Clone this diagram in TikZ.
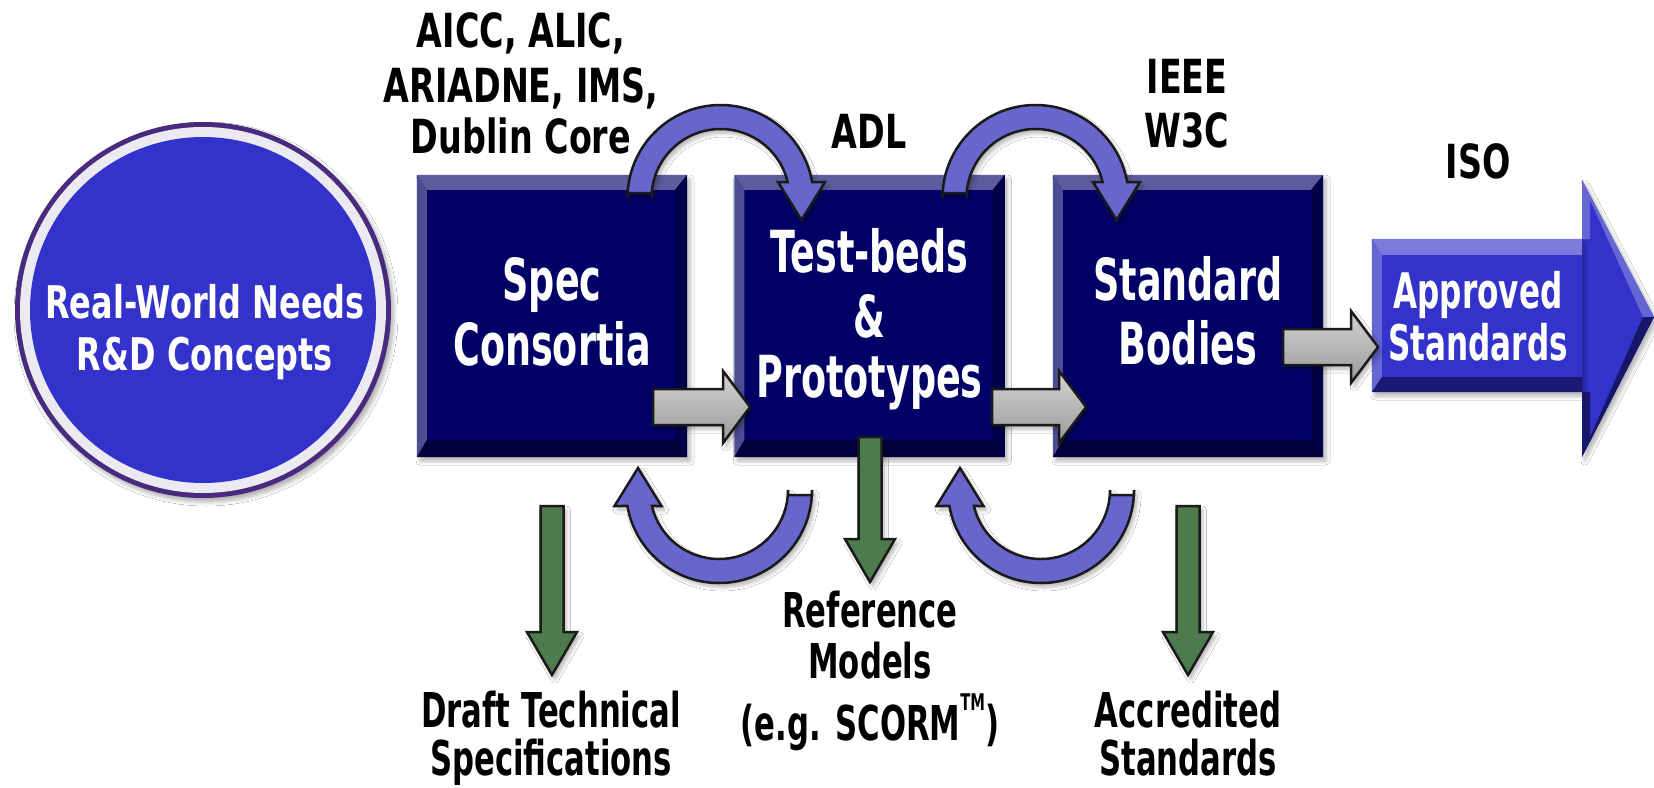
\documentclass[tikz,border=0pt]{standalone}
\usepackage{fontspec}
\usetikzlibrary{calc,shadows.blur}
\newfontfamily\fcirc{DejaVu Sans Bold}[FakeStretch=0.71]
\newfontfamily\ftop{DejaVu Sans Bold}[FakeStretch=0.71]
\newfontfamily\fbx{DejaVu Sans Bold}[FakeStretch=0.63]
\newfontfamily\fap{DejaVu Sans Bold}[FakeStretch=0.635]
\newfontfamily\fbot{DejaVu Sans Bold}[FakeStretch=0.64]
\definecolor{navy}{HTML}{000066}
\definecolor{bxtc}{HTML}{5C5C9C}
\definecolor{bxlc}{HTML}{4D4D94}
\definecolor{bxbc}{HTML}{00003A}
\definecolor{bxrc}{HTML}{000048}
\definecolor{circblue}{HTML}{3333CC}
\definecolor{ringpurple}{HTML}{4A2A7E}
\definecolor{ringwhite}{HTML}{EAEAF0}
\definecolor{aptc}{HTML}{7B7BDB}
\definecolor{aplc}{HTML}{6666D4}
\definecolor{apbc}{HTML}{1A1A75}
\definecolor{apdk}{HTML}{16166A}
\definecolor{arcblue}{HTML}{6666CC}
\definecolor{grnfill}{HTML}{4E7B4E}
\definecolor{outl}{HTML}{1A1A1A}
\definecolor{gtop}{HTML}{D4D4D4}
\definecolor{gbot}{HTML}{9A9A9A}

% block arrow pointing right: style, start, tip, shaft half, head half
\newcommand\harr[5]{%
  \draw[#1] ($(#2)+(0,-#4)$) -- ($(#3)+(-27,-#4)$) -- ($(#3)+(-27,-#5)$) -- (#3)
    -- ($(#3)+(-27,#5)$) -- ($(#3)+(-27,#4)$) -- ($(#2)+(0,#4)$) -- cycle;}
% block arrow pointing down: style, start, tip, shaft half, head half
\newcommand\varr[5]{%
  \draw[#1] ($(#2)+(-#4,0)$) -- ($(#3)+(-#4,-43)$) -- ($(#3)+(-#5,-43)$) -- (#3)
    -- ($(#3)+(#5,-43)$) -- ($(#3)+(#4,-43)$) -- ($(#2)+(#4,0)$) -- cycle;}
% curved arrow: centre, sign, angle offset
\newcommand\curvarr[3]{%
  \draw[carrow] ($(#1)+(#2*-93,#2*-5)$) -- ($(#1)+(#2*-93,0)$)
    arc[start angle=180+#3, end angle=350.1+#3, radius=93]
    -- ($(#1)+(#2*104.5,#2*-16)$) -- ($(#1)+(#2*81,#2*22)$) -- ($(#1)+(#2*57.5,#2*-16)$)
    -- ($(#1)+(346.6+#3:69)$)
    arc[start angle=346.6+#3, end angle=180+#3, radius=69]
    -- ($(#1)+(#2*-69,#2*-5)$) -- cycle;}
% bevels of a rectangular node: node, top, left, bottom, right, prefix
\newcommand\bevel[6]{%
  \fill[#6t] (#1.north west) -- (#1.north east) -- ($(#1.north east)+(-#5,#2)$) -- ($(#1.north west)+(#3,#2)$) -- cycle;
  \fill[#6l] (#1.north west) -- ($(#1.north west)+(#3,#2)$) -- ($(#1.south west)+(#3,-#4)$) -- (#1.south west) -- cycle;
  \fill[#6b] (#1.south west) -- ($(#1.south west)+(#3,-#4)$) -- ($(#1.south east)+(-#5,-#4)$) -- (#1.south east) -- cycle;
  \fill[#6r] (#1.south east) -- ($(#1.south east)+(-#5,-#4)$) -- ($(#1.north east)+(-#5,#2)$) -- (#1.north east) -- cycle;}

\begin{document}
\begin{tikzpicture}[x=1pt,y=-1pt,
  shadowed/.style={blur shadow={shadow xshift=3pt, shadow yshift=-4pt, shadow blur radius=4pt, shadow opacity=30, shadow blur steps=6}},
  navybox/.style={rectangle, fill=navy, minimum width=270pt, minimum height=282pt, inner sep=0pt, shadowed},
  apbody/.style={rectangle, fill=circblue, minimum width=210pt, minimum height=153pt, inner sep=0pt},
  bxt/.style={fill=bxtc}, bxl/.style={fill=bxlc}, bxb/.style={fill=bxbc}, bxr/.style={fill=bxrc},
  apt/.style={fill=aptc}, apl/.style={fill=aplc}, apb/.style={fill=apbc}, apr/.style={fill=apbc},
  carrow/.style={fill=arcblue, draw=outl, line width=2.5pt, shadowed},
  grayarr/.style={top color=gtop, bottom color=gbot, draw=outl, line width=2.5pt, shadowed},
  grnarr/.style={fill=grnfill, draw=outl, line width=2.5pt, shadowed},
  ctxt/.style={anchor=base, inner sep=0pt, text=white, font={\fcirc\fontsize{45}{50}\selectfont}},
  ttxt/.style={anchor=base, inner sep=0pt, text=black, font={\ftop\fontsize{47}{52}\selectfont}},
  btxt/.style={anchor=base, inner sep=0pt, text=white, font={\fbx\fontsize{58}{63}\selectfont}},
  atxt/.style={anchor=base, inner sep=0pt, text=white, font={\fap\fontsize{49}{53}\selectfont}},
  ltxt/.style={anchor=base, inner sep=0pt, text=black, font={\fbot\fontsize{48}{52}\selectfont}}
]
\useasboundingbox (0,0) rectangle (1654,787);
\fill[white] (0,0) rectangle (1654,787);

% circle
\node[circle, minimum size=376pt, inner sep=0pt, fill=ringpurple, shadowed] (rw) at (203,310) {};
\fill[ringwhite] (rw.center) circle[radius=183];
\fill[circblue] (rw.center) circle[radius=173];
\node[ctxt] (rw1) at (205,318) {Real-World Needs};
\node[ctxt] (rw2) at (205,370) {R\&D Concepts};

% boxes
\node[navybox] (spec) at (552,316) {};
\bevel{spec}{15}{10}{17}{12}{bx}
\node[navybox] (test) at (869.5,316) {};
\bevel{test}{15}{10}{17}{12}{bx}
\node[navybox] (std) at (1188,316) {};
\bevel{std}{15}{10}{17}{12}{bx}

% approved standards arrow
\coordinate (apA) at (1582,180);
\coordinate (apT) at (1654,317);
\coordinate (apB) at (1582,457);
\fill[circblue, shadowed] (apA) -- (apT) -- (apB) -- cycle;
\node[apbody, shadowed] (appr) at (1477,315.5) {};
\bevel{appr}{16}{10}{15}{0}{ap}
\fill[aplc] ($(apA)+(0,59)$) -- (apA) -- (apT) -- ($(apT)+(-11,0)$) -- ($(apA)+(8,20)$) -- ($(apA)+(8,59)$) -- cycle;
\fill[apdk] (apT) -- (apB) -- ($(apB)+(0,-65)$) -- ($(apB)+(8,-65)$) -- ($(apB)+(8,-20)$) -- ($(apT)+(-11,0)$) -- cycle;

% gray arrows
\coordinate (ga1s) at (653,407); \coordinate (ga1e) at (750,407);
\coordinate (ga2s) at (992,407); \coordinate (ga2e) at (1086,407);
\coordinate (ga3s) at (1283,347); \coordinate (ga3e) at (1378,347);
\harr{grayarr}{ga1s}{ga1e}{18}{36}
\harr{grayarr}{ga2s}{ga2e}{18}{36}
\harr{grayarr}{ga3s}{ga3e}{18}{36}

% curved arrows
\coordinate (ta1) at (720.5,198);
\coordinate (ta2) at (1035.5,198);
\coordinate (ba1) at (719,490);
\coordinate (ba2) at (1041,490);
\curvarr{ta1}{1}{0}
\curvarr{ta2}{1}{0}
\curvarr{ba1}{-1}{180}
\curvarr{ba2}{-1}{180}

% green arrows
\coordinate (g1s) at (552,506); \coordinate (g1e) at (552,675);
\coordinate (g2s) at (870,437); \coordinate (g2e) at (870,582);
\coordinate (g3s) at (1188,506); \coordinate (g3e) at (1188,675);
\varr{grnarr}{g1s}{g1e}{11.5}{25}
\varr{grnarr}{g2s}{g2e}{11.5}{25}
\varr{grnarr}{g3s}{g3e}{11.5}{25}

% box texts
\node[btxt] (spec1) at (552,300) {Spec};
\node[btxt] (spec2) at (552,365) {Consortia};
\node[btxt] (test1) at (869.5,272) {Test-beds};
\node[btxt] (test2) at (869.5,337) {\&};
\node[btxt] (test3) at (869.5,397) {Prototypes};
\node[btxt] (std1) at (1188,300) {Standard};
\node[btxt] (std2) at (1188,364) {Bodies};
\node[atxt] (ap1) at (1478,308) {Approved};
\node[atxt] (ap2) at (1478,360) {Standards};

% top labels
\node[ttxt] (org1) at (521,47) {AICC, ALIC,};
\node[ttxt] (org2) at (521,102) {ARIADNE, IMS,};
\node[ttxt] (org3) at (521,153) {Dublin Core};
\node[ttxt] (adl) at (869,148) {ADL};
\node[ttxt] (ieee) at (1187,93) {IEEE};
\node[ttxt] (w3c) at (1187,147) {W3C};
\node[ttxt] (iso) at (1478,178) {ISO};

% bottom labels
\node[ltxt] (dr1) at (551,727) {Draft Technical};
\node[ltxt] (dr2) at (551,775) {Specifications};
\node[ltxt] (rf1) at (870,627) {Reference};
\node[ltxt] (rf2) at (870,678) {Models};
\node[ltxt] (rf3) at (870,740) {(e.g. SCORM\raisebox{30pt}{\fontsize{23}{23}\selectfont TM})};
\node[ltxt] (ac1) at (1188,727) {Accredited};
\node[ltxt] (ac2) at (1188,775) {Standards};
\end{tikzpicture}
\end{document}
